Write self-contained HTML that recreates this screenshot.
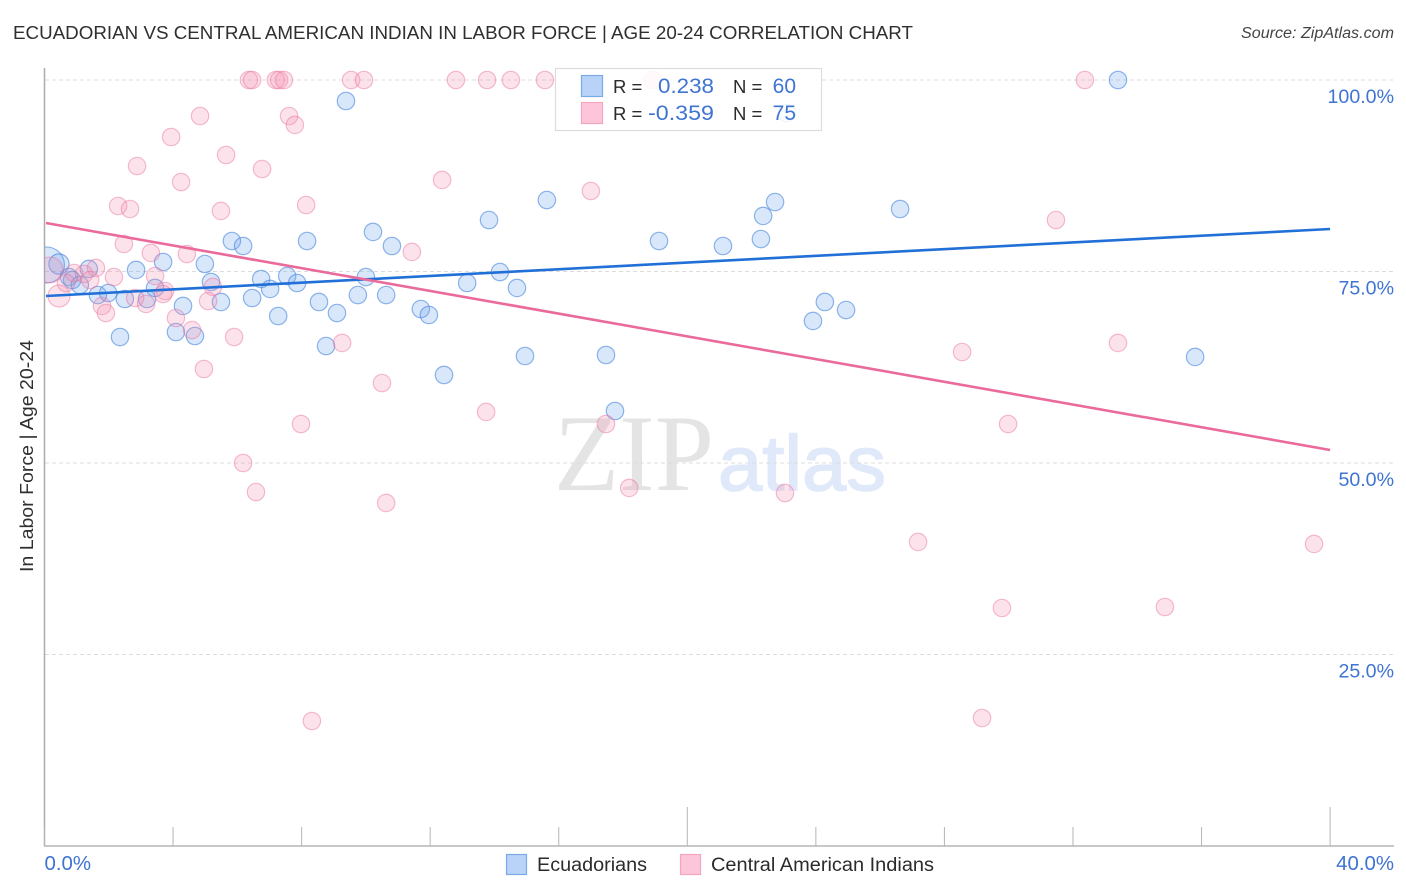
<!DOCTYPE html>
<html lang="en">
<head>
<meta charset="utf-8">
<title>Ecuadorian vs Central American Indian in Labor Force | Age 20-24 Correlation Chart</title>
<style>
html,body{margin:0;padding:0;background:#fff;width:1406px;height:892px;overflow:hidden}
svg{display:block;font-family:"Liberation Sans",sans-serif;filter:blur(0.3px)}
.blue{fill:#3f74d2}
.dark{fill:#2b2b2b}
</style>
</head>
<body>
<svg id="chart" width="1406" height="892" viewBox="0 0 1406 892" xmlns="http://www.w3.org/2000/svg">
  <defs>
    <clipPath id="plot-clip"><rect x="45" y="60" width="1349" height="786"/></clipPath>
  </defs>
  <rect width="1406" height="892" fill="#fff"/>
  <text x="13" y="39" font-size="18.5" fill="#2f2f2f" textLength="900" lengthAdjust="spacingAndGlyphs">ECUADORIAN VS CENTRAL AMERICAN INDIAN IN LABOR FORCE | AGE 20-24 CORRELATION CHART</text>
  <text x="1394" y="38" font-size="15.5" font-style="italic" fill="#444" text-anchor="end" textLength="153" lengthAdjust="spacingAndGlyphs">Source: ZipAtlas.com</text>
  <g>
    <text x="554" y="490" font-family="'Liberation Serif',serif" font-size="109" fill="#e4e4e4" textLength="160" lengthAdjust="spacingAndGlyphs">ZIP</text>
    <text x="718" y="490" font-family="'Liberation Sans',sans-serif" font-size="78" fill="#dfe9f9" stroke="#dfe9f9" stroke-width="1.5" textLength="168" lengthAdjust="spacingAndGlyphs">atlas</text>
  </g>
  <g id="grid"></g>
  <g id="axes"></g>
  <g id="points" clip-path="url(#plot-clip)"></g>
  <g id="trends"></g>
  <text transform="translate(33,456) rotate(-90)" font-size="18" fill="#2f2f2f" text-anchor="middle" textLength="232" lengthAdjust="spacingAndGlyphs">In Labor Force | Age 20-24</text>

  <g>
    <rect x="555.5" y="68.5" width="266" height="62" fill="#fff" fill-opacity="0.86" stroke="#dcdcdc" stroke-width="1.2"/>
    <rect x="581.5" y="75.5" width="21" height="21" fill="#b9d3f8" stroke="#7ba9e8" stroke-width="1.2"/>
    <rect x="581.5" y="102.5" width="21" height="21" fill="#fdc5d9" stroke="#f5a5c0" stroke-width="1.2"/>
    <text class="dark" x="613" y="93" font-size="18.5">R =</text>
    <text class="blue" x="714" y="93" font-size="21" text-anchor="end" textLength="56" lengthAdjust="spacingAndGlyphs">0.238</text>
    <text class="dark" x="733" y="93" font-size="18.5">N =</text>
    <text class="blue" x="796" y="93" font-size="21" text-anchor="end">60</text>
    <text class="dark" x="613" y="120" font-size="18.5">R =</text>
    <text class="blue" x="714" y="120" font-size="21" text-anchor="end" textLength="66" lengthAdjust="spacingAndGlyphs">-0.359</text>
    <text class="dark" x="733" y="120" font-size="18.5">N =</text>
    <text class="blue" x="796" y="120" font-size="21" text-anchor="end">75</text>
  </g>

  <g>
    <rect x="506.5" y="854.5" width="20" height="20" fill="#b9d3f8" stroke="#7ba9e8" stroke-width="1.2"/>
    <text class="dark" x="537" y="871" font-size="19" textLength="110" lengthAdjust="spacingAndGlyphs">Ecuadorians</text>
    <rect x="680.5" y="854.5" width="20" height="20" fill="#fdc5d9" stroke="#f5a5c0" stroke-width="1.2"/>
    <text class="dark" x="711" y="871" font-size="19" textLength="223" lengthAdjust="spacingAndGlyphs">Central American Indians</text>
  </g>
</svg>
<script>
const ecuadorianX = [0.06,0.45,9.38,33.40,15.63,13.83,26.62,22.73,22.36,19.12,21.11,22.29,10.22,10.81,8.17,5.83,6.18,4.99,3.69,2.85,1.38,0.76,0.86,1.10,1.66,1.98,2.50,3.19,3.44,4.31,5.18,5.49,6.46,6.74,7.02,7.55,7.86,8.54,9.10,9.75,10.00,10.63,11.71,11.96,13.15,14.17,14.70,7.27,2.35,4.09,4.68,8.76,12.43,14.95,17.47,17.75,23.91,24.28,24.94,35.80,23.10];
const ecuadorianY = [75.85,75.98,97.26,100,84.33,81.72,83.16,84.07,82.25,78.98,78.33,79.24,80.16,78.33,78.98,78.98,78.33,75.98,76.24,75.20,75.33,74.28,73.89,73.24,71.93,72.19,71.41,71.41,72.85,70.50,73.63,71.02,71.54,74.02,72.72,74.41,73.50,71.02,69.58,71.93,74.28,71.93,70.10,69.32,73.50,74.93,72.85,69.19,66.45,67.10,66.58,65.27,61.49,63.97,64.10,56.79,68.54,71.02,69.97,63.84,95.69];
const ecuadorianWeight = [4.3,1.35];
const centralAmericanX = [0.17,0.45,6.36,6.46,7.20,7.30,7.45,9.54,9.94,12.80,13.77,14.51,15.57,18.93,32.37,4.84,7.61,7.79,3.94,5.65,2.88,6.77,4.25,12.37,17.00,2.29,2.66,5.49,8.14,31.47,2.47,3.31,4.43,11.43,1.60,0.92,3.44,2.16,1.23,1.42,0.67,5.24,3.75,3.69,2.82,3.16,5.09,1.79,1.91,4.09,4.59,5.90,9.26,33.40,28.55,4.96,10.50,13.74,7.98,17.47,29.98,6.18,6.58,10.63,18.19,23.04,27.18,39.50,29.79,34.86,29.17,8.32];
const centralAmericanY = [75.20,71.80,100,100,100,100,100,100,100,100,100,100,100,100,100,95.30,95.30,94.13,92.56,90.21,88.77,88.38,86.68,86.95,85.51,83.55,83.16,82.90,83.68,81.72,78.59,77.42,77.28,77.55,75.46,74.80,74.41,74.28,74.67,73.89,73.50,72.98,72.45,72.06,71.54,70.76,71.15,70.50,69.58,68.93,67.36,66.45,65.67,65.67,64.49,62.27,60.44,56.66,55.09,55.09,55.09,50.00,46.21,44.78,46.74,46.08,39.69,39.43,31.07,31.20,16.71,16.32];
const centralAmericanWeight = [2.2,1.6];
const ecuadorianTrendX = [0,40];
const ecuadorianTrendY = [71.8,80.55];
const centralAmericanTrendX = [0,40];
const centralAmericanTrendY = [81.33,51.7];
const yTicks = [100,75,50,25];
const yTickLabels = ['100.0%','75.0%','50.0%','25.0%'];
const xTicks = [0,4,8,12,16,20,24,28,32,36,40];
const xMajorTicks = [20,40];
const xEndTicks = [0,40];
const xEndLabels = ['0.0%','40.0%'];

const NS = 'http://www.w3.org/2000/svg';
const xScale = v => 44.5 + v * 32.14;
const yScale = v => 846 - v * 7.66;
const BASE_RADIUS = 8.7;

function make(tag, parent, attrs) {
  const el = document.createElementNS(NS, tag);
  Object.keys(attrs).forEach(k => el.setAttribute(k, attrs[k]));
  parent.appendChild(el);
  return el;
}

const grid = document.getElementById('grid');
yTicks.forEach((t, i) => {
  const line = make('line', grid, {x1: 45, x2: 1394, y1: yScale(t), y2: yScale(t), stroke: '#dcdcdc', 'stroke-width': 1, 'stroke-dasharray': '4 3'});
  
  
  const label = make('text', grid, {x: 1394, y: yScale(t) + 23, 'font-size': 19.6, 'text-anchor': 'end', class: 'blue'});
  
  
  label.textContent = yTickLabels[i];
});

const axes = document.getElementById('axes');
const yAxis = make('line', axes, {x1: 44.5, x2: 44.5, y1: 68, y2: 846, stroke: '#ababab', 'stroke-width': 1.5});


const xAxis = make('line', axes, {x1: 44, x2: 1394, y1: 846, y2: 846, stroke: '#b5b5b5', 'stroke-width': 1.5});


xTicks.forEach(t => {
  const top = xMajorTicks.includes(t) ? 807 : 827;
  const tick = make('line', axes, {x1: xScale(t), x2: xScale(t), y1: top, y2: 846, stroke: '#b5b5b5', 'stroke-width': 1});
  
  
});
xEndTicks.forEach((t, i) => {
  const label = make('text', axes, {
    x: i === 0 ? xScale(t) : 1394,
    y: 870,
    'font-size': 20.4,
    'text-anchor': i === 0 ? 'start' : 'end',
    class: 'blue'
  });
  
  
  label.textContent = xEndLabels[i];
});

const points = document.getElementById('points');
function radiusFor(weights, i) {
  const w = weights[i] === undefined ? 1 : weights[i];
  return BASE_RADIUS * Math.sqrt(w);
}
ecuadorianX.forEach((x, i) => {
  const c = make('circle', points, {cx: xScale(x), cy: yScale(ecuadorianY[i]), r: radiusFor(ecuadorianWeight, i), fill: '#6ba3ec', 'fill-opacity': 0.26, stroke: '#3f82dd', 'stroke-opacity': 0.58, 'stroke-width': 1.2});
  
  
});
centralAmericanX.forEach((x, i) => {
  const c = make('circle', points, {cx: xScale(x), cy: yScale(centralAmericanY[i]), r: radiusFor(centralAmericanWeight, i), fill: '#f48fb1', 'fill-opacity': 0.25, stroke: '#ea6f9c', 'stroke-opacity': 0.46, 'stroke-width': 1.2});
  
  
});

const trends = document.getElementById('trends');
const blueTrend = make('line', trends, {x1: xScale(ecuadorianTrendX[0]) + 1.5, x2: xScale(ecuadorianTrendX[1]), y1: yScale(ecuadorianTrendY[0]), y2: yScale(ecuadorianTrendY[1]), stroke: '#2170d8', 'stroke-width': 2.6});


const pinkTrend = make('line', trends, {x1: xScale(centralAmericanTrendX[0]) + 1.5, x2: xScale(centralAmericanTrendX[1]), y1: yScale(centralAmericanTrendY[0]), y2: yScale(centralAmericanTrendY[1]), stroke: '#ea6a9b', 'stroke-width': 2.6});


</script>
</body>
</html>
